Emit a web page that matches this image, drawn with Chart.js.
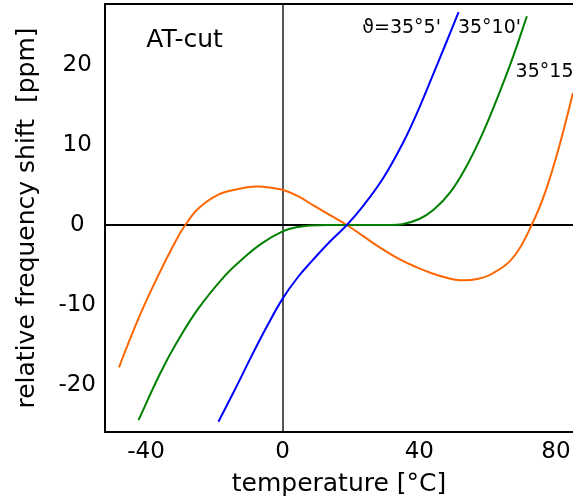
<!DOCTYPE html>
<html>
<head>
<meta charset="utf-8">
<script src="https://cdn.jsdelivr.net/npm/chart.js@4/dist/chart.umd.min.js"></script>
<style>
  html, body { margin: 0; padding: 0; background: #fff; }
  #wrap { width: 573px; height: 503px; }
</style>
</head>
<body>
<div id="wrap"><canvas id="chart"></canvas></div>
<script>
// temperature [°C] / frequency shift [ppm]
const blueTemp = [-18.8, -14, -9, -4.5, 0, 4.5, 9, 14, 18.8, 23.7, 29.5, 35.4, 39.8, 43.7, 47.6, 51.5];
const blueShift = [-24.6, -20.6, -16.3, -12.6, -9.2, -6.5, -4.3, -2.0, 0, 2.45, 5.9, 10.4, 14.45, 18.45, 22.5, 26.6];

const greenTemp = [-42.2, -35.9, -31.0, -24.6, -16.8, -11.9, -6.1, 0, 4, 8, 15, 22, 30, 35, 40, 44.2, 49.1, 53.9, 58.8, 63.7, 67.6, 71.5];
const greenShift = [-24.4, -18.6, -14.7, -10.4, -6.3, -4.3, -2.3, -0.8, -0.28, -0.06, 0, 0, 0, 0.1, 0.75, 1.9, 4.1, 7.4, 11.7, 16.8, 21.2, 26.1];

const orangeTemp = [-47.9, -45.1, -41.2, -36.4, -31.3, -28.5, -24.6, -18.8, -13, -8, -4, 0, 4.5, 9, 14, 18.8, 23.6, 28.4, 34.3, 39.3, 44.1, 48, 52, 57, 61.7, 67.6, 72.9, 77.1, 81.2, 85];
const orangeShift = [-17.8, -14.7, -10.7, -6.3, -2.0, 0, 2.1, 3.8, 4.5, 4.8, 4.7, 4.4, 3.6, 2.45, 1.2, 0, -1.4, -2.8, -4.3, -5.3, -6.1, -6.6, -6.9, -6.75, -6.0, -4.0, 0, 4.4, 10.2, 16.5];

const xTicks = [-40, 0, 40, 80];
const yTicks = [-20, -10, 0, 10, 20];

function toPoints(xs, ys) {
  return xs.map((x, i) => ({ x: x, y: ys[i] }));
}

const FONT = 'DejaVu Sans';

// top frame line + text notes placed in data units
const notes = {
  id: 'notes',
  afterDatasetsDraw(chart) {
    const { ctx, chartArea, scales } = chart;
    const sx = scales.x, sy = scales.y;
    ctx.save();
    ctx.strokeStyle = '#000';
    ctx.lineWidth = 2;
    ctx.beginPath();
    ctx.moveTo(chartArea.left - 1, chartArea.top);
    ctx.lineTo(chartArea.right, chartArea.top);
    ctx.stroke();

    ctx.fillStyle = '#000';
    ctx.textBaseline = 'middle';
    ctx.font = '25px "' + FONT + '"';
    ctx.textAlign = 'center';
    ctx.fillText('AT-cut', sx.getPixelForValue(-28.7), sy.getPixelForValue(23.1));

    ctx.font = '19px "' + FONT + '"';
    ctx.textAlign = 'left';
    ctx.fillText('\u03d1=35\u00b05\'', sx.getPixelForValue(23.3), sy.getPixelForValue(24.6));
    ctx.fillText('35\u00b010\'', sx.getPixelForValue(51.3), sy.getPixelForValue(24.6));
    ctx.fillText('35\u00b015\'', sx.getPixelForValue(68.2), sy.getPixelForValue(19.1));
    ctx.restore();
  }
};

const zeroOnly = (colour) => (ctx) => (ctx.tick && ctx.tick.value === 0 ? colour : 'rgba(0,0,0,0)');

new Chart(document.getElementById('chart'), {
  type: 'line',
  data: {
    datasets: [
      { label: '35°5\'', data: toPoints(blueTemp, blueShift), borderColor: '#0000ff' },
      { label: '35°10\'', data: toPoints(greenTemp, greenShift), borderColor: '#008000' },
      { label: '35°15\'', data: toPoints(orangeTemp, orangeShift), borderColor: '#ff6600' },
    ],
  },
  options: {
    responsive: true,
    maintainAspectRatio: false,
    animation: false,
    layout: { padding: { top: 4, right: 0, left: 0, bottom: 0 } },
    elements: {
      line: { borderWidth: 2, tension: 0.4, fill: false },
      point: { radius: 0 },
    },
    plugins: {
      legend: { display: false },
      tooltip: { enabled: false },
    },
    scales: {
      x: {
        type: 'linear',
        min: -52,
        max: 85,
        afterBuildTicks: (s) => { s.ticks = xTicks.map((v) => ({ value: v })); },
        afterFit: (s) => { s.height = 71; s.paddingLeft = 0; s.paddingRight = 0; },
        border: { color: '#000', width: 2 },
        grid: { color: zeroOnly('#555'), lineWidth: 2, drawTicks: false },
        ticks: { color: '#000', font: { family: FONT, size: 23 }, padding: 6, maxRotation: 0 },
        title: {
          display: true,
          text: 'temperature [°C]',
          color: '#000',
          font: { family: FONT, size: 25 },
          padding: { top: 0, bottom: 4 },
        },
      },
      y: {
        type: 'linear',
        min: -25.875,
        max: 27.625,
        afterBuildTicks: (s) => { s.ticks = yTicks.map((v) => ({ value: v })); },
        afterFit: (s) => { s.width = 105; s.paddingTop = 0; s.paddingBottom = 0; },
        border: { color: '#000', width: 2 },
        grid: { color: zeroOnly('#000'), lineWidth: 2, drawTicks: false },
        ticks: { color: '#000', font: { family: FONT, size: 23 }, padding: 9, crossAlign: 'center' },
        title: {
          display: true,
          text: 'relative frequency shift  [ppm]',
          color: '#000',
          font: { family: FONT, size: 25 },
          padding: { top: 12, bottom: 0 },
        },
      },
    },
  },
  plugins: [notes],
});
</script>
</body>
</html>
